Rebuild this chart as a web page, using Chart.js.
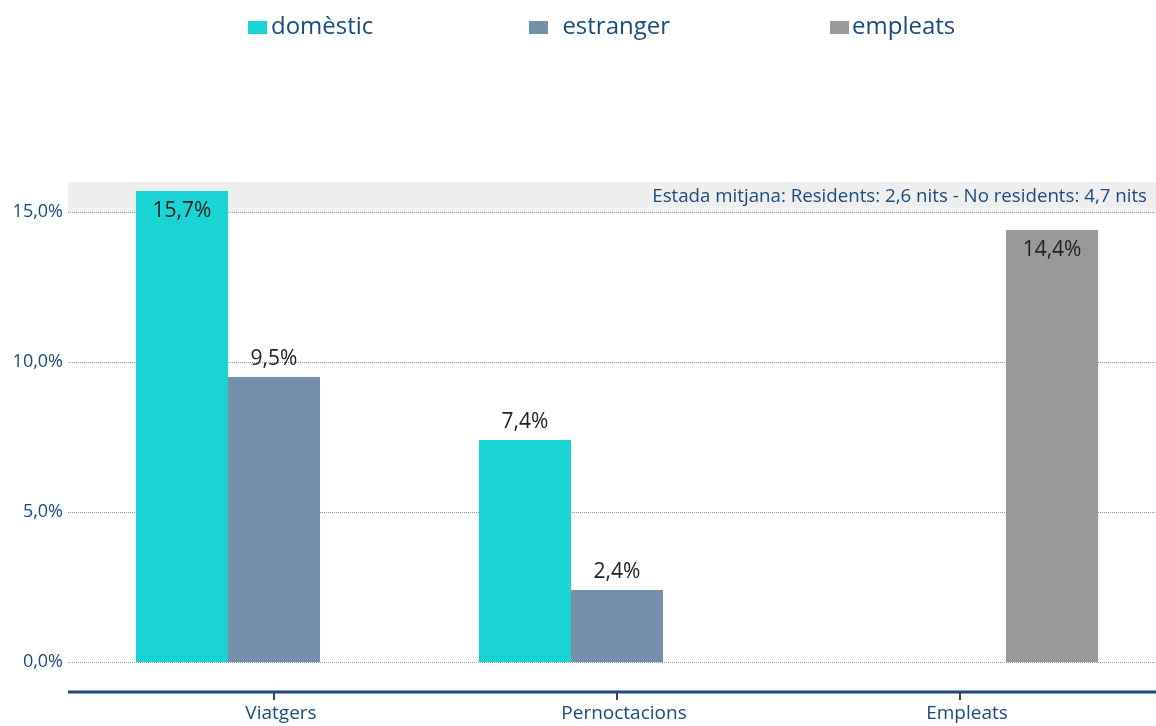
<!DOCTYPE html>
<html>
<head>
<meta charset="utf-8">
<script src="https://cdn.jsdelivr.net/npm/chart.js@4/dist/chart.umd.min.js"></script>
<style>
html, body { margin: 0; padding: 0; background: #fff; }
#wrap { position: relative; width: 1156px; height: 726px; }
#legend { position: absolute; top: 8px; left: 248px; display: flex; align-items: center;
  font: 24px "Open Sans", sans-serif; color: #1b4a7c; white-space: nowrap; }
#legend .box { display: inline-block; width: 19px; height: 13px; margin-top: 6px; }
</style>
</head>
<body>
<div id="wrap">
  <canvas id="barChart" width="1156" height="726"></canvas>
  <div id="legend"></div>
</div>
<script>
// data
var categories = ["Viatgers", "Pernoctacions", "Empleats"];
var seriesNames = ["domèstic", "estranger", "empleats"];
var domestic = [15.7, 7.4, null];
var foreign = [9.5, 2.4, null];
var employees = [null, null, 14.4];
var yTicks = [0, 5, 10, 15];
var bandNote = "Estada mitjana: Residents: 2,6 nits - No residents: 4,7 nits";

var colors = ["#1ad3d3", "#7690ac", "#999999"];
var navy = "#1b4a7c";

function fmt(v) { return v.toFixed(1).replace(".", ",") + "%"; }

// legend (html)
var legend = document.getElementById("legend");
var gaps = [[4, 0], [14, 156], [3, 160]];
seriesNames.forEach(function (name, i) {
  var b = document.createElement("span");
  b.className = "box";
  b.style.background = colors[i];
  b.style.marginLeft = gaps[i][1] + "px";
  var t = document.createElement("span");
  t.textContent = name;
  t.style.marginLeft = gaps[i][0] + "px";
  legend.appendChild(b);
  legend.appendChild(t);
});

var backdrop = {
  id: "backdrop",
  beforeDatasetsDraw: function (chart) {
    var ctx = chart.ctx, area = chart.chartArea, y = chart.scales.y;
    var x0 = 68, x1 = chart.width;
    ctx.save();
    // grey band above the 15% line
    var yb = y.getPixelForValue(yTicks[yTicks.length - 1]);
    ctx.fillStyle = "#efefef";
    ctx.fillRect(x0, area.top, x1 - x0, yb - area.top);
    ctx.fillStyle = navy;
    ctx.font = "18.7px 'Open Sans'";
    ctx.textAlign = "right";
    ctx.textBaseline = "middle";
    ctx.fillText(bandNote, 1147, (area.top + yb) / 2);
    // dotted grid lines
    ctx.strokeStyle = "#7d9bc4";
    ctx.lineWidth = 1;
    ctx.setLineDash([1, 1]);
    yTicks.forEach(function (v) {
      var py = Math.round(y.getPixelForValue(v)) + 0.5;
      ctx.beginPath();
      ctx.moveTo(x0, py);
      ctx.lineTo(x1, py);
      ctx.stroke();
    });
    ctx.setLineDash([]);
    // x axis line
    ctx.strokeStyle = "#1d4877";
    ctx.lineWidth = 3;
    ctx.beginPath();
    ctx.moveTo(x0, area.bottom);
    ctx.lineTo(x1, area.bottom);
    ctx.stroke();
    ctx.restore();
  },
  afterDatasetsDraw: function (chart) {
    var ctx = chart.ctx;
    ctx.save();
    ctx.font = "21px 'Open Sans'";
    ctx.fillStyle = "#222";
    ctx.textAlign = "center";
    ctx.textBaseline = "alphabetic";
    chart.data.datasets.forEach(function (ds, i) {
      chart.getDatasetMeta(i).data.forEach(function (bar, j) {
        var v = ds.data[j];
        if (v == null) return;
        var inside = v > 14;
        ctx.fillText(fmt(v), bar.x, inside ? bar.y + 26 : bar.y - 12);
      });
    });
    ctx.restore();
  }
};

var ctxB = document.getElementById("barChart");
var myBarChart = new Chart(ctxB, {
  type: "bar",
  data: {
    labels: categories,
    datasets: [
      { label: seriesNames[0], data: domestic, backgroundColor: colors[0] },
      { label: seriesNames[1], data: foreign, backgroundColor: colors[1] },
      { label: seriesNames[2], data: employees, backgroundColor: colors[2] }
    ]
  },
  options: {
    responsive: false,
    animation: false,
    layout: { padding: { left: 0, right: 24.5, top: 182, bottom: 0 } },
    datasets: { bar: { categoryPercentage: 0.805, barPercentage: 1 } },
    plugins: { legend: { display: false }, tooltip: { enabled: false } },
    scales: {
      x: {
        afterFit: function (s) { s.height = 34; s.paddingLeft = 0; s.paddingRight = 0; },
        grid: { display: true, drawOnChartArea: false, drawTicks: true, tickLength: 8,
          color: "#1d4877", lineWidth: 2, offset: false },
        border: { display: false },
        ticks: { color: navy, padding: 2, labelOffset: 7, font: { family: "Open Sans", size: 19 } }
      },
      y: {
        min: -1,
        max: 16,
        afterFit: function (s) { s.width = 102.5; s.paddingTop = 0; s.paddingBottom = 0; },
        afterBuildTicks: function (s) { s.ticks = yTicks.map(function (v) { return { value: v }; }); },
        grid: { display: false, drawTicks: false },
        border: { display: false },
        ticks: { color: navy, padding: 39.5, font: { family: "Open Sans", size: 18 },
          callback: function (v) { return fmt(v); } }
      }
    }
  },
  plugins: [backdrop]
});
</script>
</body>
</html>
